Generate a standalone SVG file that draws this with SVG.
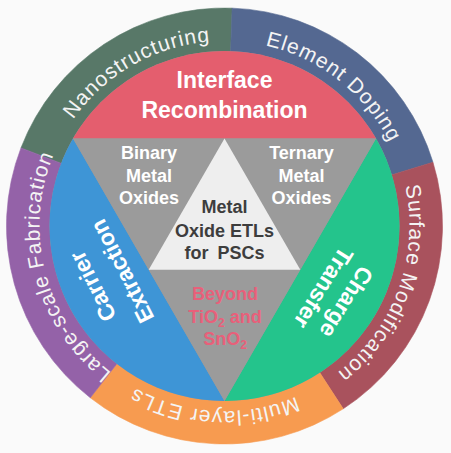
<svg xmlns="http://www.w3.org/2000/svg" xmlns:xlink="http://www.w3.org/1999/xlink" width="451" height="453" viewBox="0 0 451 453">
<style>
.ring{font-family:"Liberation Sans",Arial,sans-serif;font-size:21px;fill:#f4f4f4;letter-spacing:1px;text-anchor:middle}
.big{font-family:"Liberation Sans",Arial,sans-serif;font-weight:bold;font-size:23px;fill:#ffffff;text-anchor:middle}
.mid{font-family:"Liberation Sans",Arial,sans-serif;font-weight:bold;font-size:18px;fill:#ffffff;text-anchor:middle}
.ctr{fill:#3d3d3d}
.red{fill:#e8607a}
.gray{fill:#9b9b9b}
</style>
<defs>
<path id="ringPath" d="M401.42,171.91 A185,185 0 1 1 47.58,280.09 A185,185 0 1 1 401.42,171.91"/>
</defs>
<rect x="0" y="0" width="451" height="453" fill="#fafafa"/>
<g id="ring-nanostructuring">
<path d="M224.5,226 L20.98,147.88 A218,218 0 0 1 232.11,8.13 Z" fill="#587868" stroke="#587868" stroke-width="0.6"/>
<text class="ring"><textPath href="#ringPath" startOffset="71.5%">Nanostructuring</textPath></text>
</g>
<g id="ring-element-doping">
<path d="M224.5,226 L232.11,8.13 A218,218 0 0 1 432.97,162.26 Z" fill="#546891" stroke="#546891" stroke-width="0.6"/>
<text class="ring"><textPath href="#ringPath" startOffset="90.3%">Element Doping</textPath></text>
</g>
<g id="ring-surface-modification">
<path d="M224.5,226 L432.97,162.26 A218,218 0 0 1 343.23,408.83 Z" fill="#a9525d" stroke="#a9525d" stroke-width="0.6"/>
<text class="ring"><textPath href="#ringPath" startOffset="10.3%">Surface Modification</textPath></text>
</g>
<g id="ring-multilayer-etls">
<path d="M224.5,226 L343.23,408.83 A218,218 0 0 1 90.29,397.79 Z" fill="#f79b50" stroke="#f79b50" stroke-width="0.6"/>
<text class="ring"><textPath href="#ringPath" startOffset="30.6%">Multi-layer ETLs</textPath></text>
</g>
<g id="ring-large-scale-fabrication">
<path d="M224.5,226 L90.29,397.79 A218,218 0 0 1 20.98,147.88 Z" fill="#9462a8" stroke="#9462a8" stroke-width="0.6"/>
<text class="ring"><textPath href="#ringPath" startOffset="50.6%">Large-scale Fabrication</textPath></text>
</g>
<circle cx="224.5" cy="226" r="175" class="gray"/>
<g id="sector-interface-recombination">
<path d="M72.95,138.5 A175,175 0 0 1 376.05,138.5 Z" fill="#e45e6e"/>
<text class="big" x="224.5" y="88">Interface</text>
<text class="big" x="224.5" y="118">Recombination</text>
</g>
<g id="sector-carrier-extraction">
<path d="M224.5,401 A175,175 0 0 1 72.95,138.5 Z" fill="#3e95d6"/>
<g transform="translate(107,279) rotate(-117)">
<text class="big" x="0" y="-8">Carrier</text>
<text class="big" x="0" y="25">Extraction</text>
</g>
</g>
<g id="sector-charge-transfer">
<path d="M376.05,138.5 A175,175 0 0 1 224.5,401 Z" fill="#24c48c"/>
<g transform="translate(335,295) rotate(122)">
<text class="big" x="0" y="-5.5">Charge</text>
<text class="big" x="0" y="21.5">Transfer</text>
</g>
</g>
<g id="tri-binary-metal-oxides">
<path d="M72.95,138.5 L224.5,138.5 L148.7,269.75 Z" class="gray"/>
<text class="mid" x="149" y="159">Binary</text>
<text class="mid" x="149" y="181.5">Metal</text>
<text class="mid" x="149" y="204">Oxides</text>
</g>
<g id="tri-ternary-metal-oxides">
<path d="M224.5,138.5 L376.05,138.5 L300.3,269.75 Z" class="gray"/>
<text class="mid" x="301.5" y="159">Ternary</text>
<text class="mid" x="301.5" y="181.5">Metal</text>
<text class="mid" x="301.5" y="204">Oxides</text>
</g>
<g id="tri-beyond">
<path d="M148.7,269.75 L300.3,269.75 L224.5,401 Z" class="gray"/>
<text class="mid red" x="225" y="300">Beyond</text>
<text class="mid red" x="225" y="323">TiO<tspan font-size="12" dy="4">2</tspan><tspan dy="-4"> and</tspan></text>
<text class="mid red" x="225" y="345">SnO<tspan font-size="12" dy="4">2</tspan></text>
</g>
<g id="tri-center">
<path d="M224.5,138.5 L300.3,269.75 L148.7,269.75 Z" fill="#eeeeee"/>
<text class="mid ctr" x="224.5" y="213">Metal</text>
<text class="mid ctr" x="224.5" y="237">Oxide ETLs</text>
<text class="mid ctr" x="224.5" y="259" word-spacing="4">for PSCs</text>
</g>
<g id="connectors"/>
</svg>
